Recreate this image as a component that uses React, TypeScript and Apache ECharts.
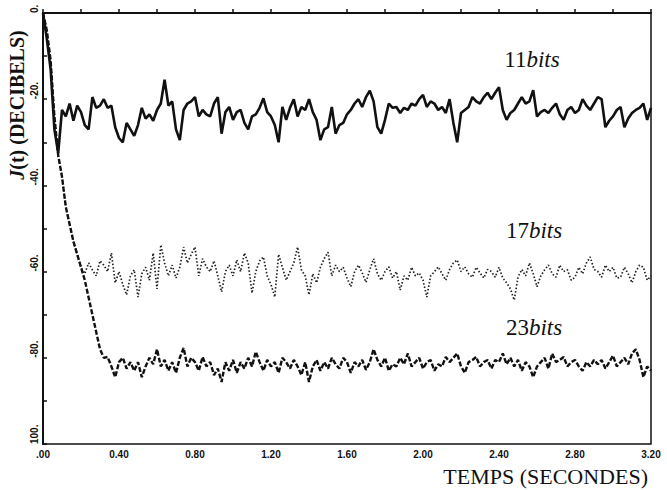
import React, { useEffect, useRef } from "react";
import * as echarts from "echarts";

// sampling step of the recorded curves (seconds)
const TIME_STEP = 0.02;

const xTickLabels = [".00", "0.40", "0.80", "1.20", "1.60", "2.00", "2.40", "2.80", "3.20"];

// J(t) in dB, one value every 0.02 s from t = 0 to t = 3.20
const bits11 = [
  0, -6, -13, -27, -32.5, -22.5, -24, -21, -25, -21.5,
  -23, -26, -27, -19.5, -22, -21.5, -20, -22, -21.5, -26.5,
  -29, -30, -25.5, -27, -28.5, -26, -22, -24.5, -23.5, -25,
  -22.5, -21, -15.5, -21.5, -20.5, -27, -29.5, -22.5, -21, -20.5,
  -19.5, -24, -22.5, -23.5, -24, -21, -19.5, -28, -23, -21.8,
  -24.8, -23, -22.5, -25.5, -27, -24, -23.5, -22, -19.8, -23,
  -24, -26, -30, -21.8, -24.8, -22, -20, -24, -21.8, -22.5,
  -20, -23, -24.8, -29.5, -27, -26.5, -21.8, -28, -26, -25.5,
  -23.5, -22.5, -21, -20, -21.8, -19.5, -18, -20.5, -26.5, -28,
  -24.8, -21, -22, -21.8, -23.2, -22, -22.5, -21, -21.5, -20,
  -19, -21.8, -20.5, -21, -22.5, -21.8, -23.2, -20, -25.5, -30,
  -23.2, -22.5, -21.8, -19.5, -20.5, -21, -19.5, -18.5, -20, -18.5,
  -17.2, -22.5, -24.8, -23.2, -22.5, -21, -19.5, -21, -20.5, -17.9,
  -24, -23, -22.5, -23.2, -22, -21, -23.5, -24.8, -22.5, -21.8,
  -23.2, -22.5, -20, -21.5, -22.5, -21, -19.5, -20, -26.5, -25,
  -24, -22.5, -21.8, -26.5, -24.5, -23.2, -22.5, -22, -21, -24.8,
  -22,
];

const bits17 = [
  0, -4, -11, -24, -33, -38, -45, -49, -53, -56,
  -59, -60.5, -58, -59.6, -61, -57.5, -58.5, -60, -55.7, -62.6,
  -60, -63, -65.4, -61, -59.6, -65.9, -60.5, -59, -62, -55.7,
  -64, -53.8, -58, -61, -58.5, -61.5, -59, -54.3, -58, -56,
  -54.3, -61, -57, -58.9, -60, -57.5, -61, -64.7, -60, -58.5,
  -61, -57.3, -60, -55.7, -58, -65, -60, -57.5, -56.6, -61,
  -63, -65.9, -56, -59, -62, -60, -58, -54.3, -59.6, -61,
  -65.4, -60.5, -62.6, -59, -57, -55.5, -61, -58.5, -60, -59,
  -61.5, -63.5, -60, -58.5, -60.3, -62.5, -59.6, -57, -60.5, -62,
  -60, -58.9, -61.5, -60, -64.3, -61, -62, -59, -61, -60.3,
  -62, -65.9, -61, -60, -58.9, -60.5, -62, -59.5, -58, -57.3,
  -60, -58.9, -60.5, -61.3, -59, -60.3, -61.5, -59.5, -60, -61.3,
  -59, -61.5, -62.6, -64, -66.6, -61.3, -59.5, -61, -58, -60.5,
  -63.5, -61, -59.6, -58.5, -60.5, -61.3, -58.5, -60, -59.6, -62,
  -61.3, -59, -60.5, -58, -56.6, -59.5, -60, -61.3, -58.5, -60,
  -59, -61.5, -61.3, -59, -60.5, -62.6, -60, -58.5, -59, -62,
  -61,
];

const bits23 = [
  0, -4, -11, -24, -33, -38, -45, -49, -53, -56,
  -59, -62, -66, -70, -74, -78, -80, -79.8, -82, -84.5,
  -81, -80, -82.5, -81, -83, -81, -84.5, -82, -80, -81.5,
  -78, -82, -80.5, -83, -81, -83.5, -80, -77.7, -82, -80,
  -81, -83, -79.8, -82, -81, -84, -82.5, -85.6, -81, -83,
  -80.5, -83.5, -81, -82.5, -80, -82, -78.6, -81, -83, -80.5,
  -82, -81, -83.5, -80, -81, -82.5, -80.5, -82, -84, -81,
  -85.6, -82, -80.5, -83, -81, -82.5, -80, -81.5, -82.5, -80,
  -81, -83.5, -81, -82, -80.5, -82.8, -81, -78, -80.5, -82,
  -80, -83, -81.5, -82, -80, -81.5, -79, -82, -81, -80,
  -82.5, -81, -80.5, -83, -81.5, -82, -79.8, -81, -80, -79,
  -82, -83.5, -81, -80.5, -79.8, -82, -81, -80.5, -82.5, -80.5,
  -81, -79, -81.5, -80, -82, -80.5, -83, -81, -82, -84.5,
  -82, -81, -80, -82.5, -79, -81, -80.5, -79.8, -82, -81,
  -80.5, -82, -83, -81, -82, -80.5, -81.5, -80.5, -82.5, -81,
  -79.5, -82, -81, -80, -81.5, -79, -78, -80.5, -84.5, -82,
  -83,
];

const seriesLabels = ["11", "17", "23"];

const toPairs = (vals: number[]) =>
  vals.map((v, i) => [Math.round(i * TIME_STEP * 100) / 100, v]);

export default function App() {
  const ref = useRef<HTMLDivElement>(null);

  useEffect(() => {
    if (!ref.current) return;
    const chart = echarts.init(ref.current, undefined, { renderer: "svg" });
    const serif = "'Liberation Serif', 'DejaVu Serif', serif";
    const labelText = (n: string) => ({
      text: `{n|${n}}{i|bits}`,
      rich: {
        n: { fontFamily: serif, fontSize: 23, fill: "#111" },
        i: { fontFamily: serif, fontSize: 23, fontStyle: "italic", fill: "#111" },
      },
    });
    chart.setOption({
      animation: false,
      backgroundColor: "#ffffff",
      grid: {
        left: 43,
        top: 13,
        right: 16,
        bottom: 46,
        show: true,
        borderColor: "#111",
        borderWidth: 1.5,
        backgroundColor: "transparent",
      },
      xAxis: {
        type: "value",
        min: 0,
        max: 3.2,
        interval: 0.2,
        axisLine: { show: true, lineStyle: { color: "#111", width: 2 } },
        axisTick: { show: true, inside: true, length: 4, lineStyle: { color: "#111", width: 1.5 } },
        splitLine: { show: false },
        axisLabel: {
          margin: 5,
          color: "#111",
          fontFamily: "'Liberation Sans', sans-serif",
          fontWeight: "bold",
          fontSize: 10,
          formatter: (v: number) => {
            const k = Math.round(v * 100);
            if (k % 40 !== 0) return "";
            return xTickLabels[k / 40] ?? "";
          },
        },
      },
      yAxis: {
        type: "value",
        min: -100,
        max: 0,
        interval: 10,
        axisLine: { show: true, lineStyle: { color: "#111", width: 2 } },
        axisTick: { show: true, inside: true, length: 4, lineStyle: { color: "#111", width: 1.5 } },
        splitLine: { show: false },
        axisLabel: {
          rotate: 90,
          margin: 4,
          align: "left",
          verticalAlign: "bottom",
          color: "#111",
          fontFamily: "'Liberation Sans', sans-serif",
          fontWeight: "bold",
          fontSize: 10,
          formatter: (v: number) => {
            const k = Math.round(v);
            if (k === 0) return "0.";
            if (k === -100) return "100.";
            if (k % 20 === 0) return `${k}.`;
            return "";
          },
        },
      },
      series: [
        {
          name: seriesLabels[0],
          type: "line",
          data: toPairs(bits11),
          showSymbol: false,
          lineStyle: { color: "#111", width: 2.6, type: "solid" },
          z: 3,
        },
        {
          name: seriesLabels[1],
          type: "line",
          data: toPairs(bits17),
          showSymbol: false,
          lineStyle: { color: "#222", width: 1.7, type: [1.5, 2] },
          z: 2,
        },
        {
          name: seriesLabels[2],
          type: "line",
          data: toPairs(bits23),
          showSymbol: false,
          lineStyle: { color: "#111", width: 2.4, type: [5, 2] },
          z: 2,
        },
      ],
      graphic: [
        {
          type: "text",
          x: 17,
          y: 105,
          rotation: Math.PI / 2,
          style: {
            text: "{i|J}{r|(t) (DECIBELS)}",
            align: "center",
            verticalAlign: "middle",
            rich: {
              i: { fontFamily: serif, fontSize: 20, fontStyle: "italic", fontWeight: "bold", fill: "#111" },
              r: { fontFamily: serif, fontSize: 20, fontWeight: "bold", fill: "#111" },
            },
          },
        },
        {
          type: "text",
          x: 648,
          y: 476,
          style: {
            text: "TEMPS (SECONDES)",
            align: "right",
            verticalAlign: "middle",
            fontFamily: serif,
            fontSize: 22,
            fill: "#111",
          },
        },
        {
          type: "text",
          x: 532,
          y: 59,
          style: { ...labelText(seriesLabels[0]), align: "center", verticalAlign: "middle" },
        },
        {
          type: "text",
          x: 534,
          y: 230,
          style: { ...labelText(seriesLabels[1]), align: "center", verticalAlign: "middle" },
        },
        {
          type: "text",
          x: 534,
          y: 327,
          style: { ...labelText(seriesLabels[2]), align: "center", verticalAlign: "middle" },
        },
      ],
    });
    return () => chart.dispose();
  }, []);

  return (
    <div
      ref={ref}
      style={{ position: "absolute", left: 0, top: 0, width: 667, height: 490, background: "#fff" }}
    />
  );
}
